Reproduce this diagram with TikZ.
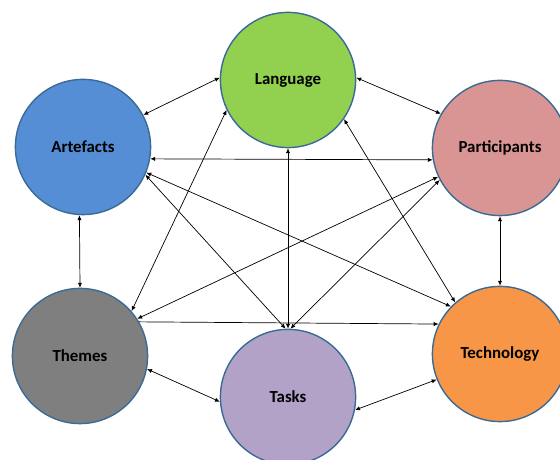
\documentclass[tikz,border=0pt]{standalone}
\usepackage[dvipsnames]{xcolor}
\usepackage{fontspec}
\setmainfont{Carlito}
\usepackage{tikz}
\usetikzlibrary{arrows.meta}

\definecolor{langgreen}{HTML}{92D050}
\definecolor{artblue}{HTML}{558ED5}
\definecolor{partpink}{HTML}{D99594}
\definecolor{themegray}{HTML}{7F7F7F}
\definecolor{tasklilac}{HTML}{B3A2C7}
\definecolor{techorange}{HTML}{F79646}
\definecolor{rimblue}{HTML}{3A6A96}

\begin{document}
\begin{tikzpicture}[
		topic/.style={circle,draw=rimblue,line width=1pt,minimum size=3.38cm,inner sep=0pt,
			font=\fontsize{12}{14}\selectfont\bfseries},
		link/.style={{Latex[length=3.5pt,width=3pt]}-{Latex[length=3.5pt,width=3pt]},line width=0.5pt},
		oneway/.style={-{Latex[length=3.5pt,width=3pt]},line width=0.5pt}]
			\useasboundingbox (0,0) rectangle (14,11.5);
			\fill[white] (0,0) rectangle (14,11.5);
			
				%Circles
				\node[topic,fill=langgreen] (lang) at (7.2,9.5) {Language};
				\node[topic,fill=artblue] (art) at (2.075,7.825) {Artefacts};
				\node[topic,fill=partpink] (part) at (12.5,7.8) {Participants};
				\node[topic,fill=themegray] (themes) at (2.0,2.6) {Themes};
				\node[topic,fill=tasklilac] (tasks) at (7.2,1.575) {Tasks};
				\node[topic,fill=techorange] (tech) at (12.5,2.65) {Technology};
		
				%Outer ring
				\draw[link] (art.28) -- (lang.178);
				\draw[link] (lang.2) -- (part.150);
				\draw[link] (art.267) -- (themes.90);
				\draw[link] (part.south) -- (tech.north);
				\draw[link] (themes.-11) -- (tasks.184);
				\draw[link] (tasks.-11) -- (tech.202);
		
				%Cross links
				\draw[link] (art.-10) -- (part.190);
				\draw[link] (lang.south) -- (tasks.north);
				\draw[link] (lang.206) -- (themes.41);
				\draw[link] (lang.-35) -- (tech.131);
				\draw[link] (art.-22) -- (tech.136);
				\draw[link] (art.-24) -- (tasks.92);
				\draw[link] (part.205) -- (themes.33);
				\draw[link] (part.208) -- (tasks.88);
				\draw[oneway] (themes.30) -- (tech.154);
	\end{tikzpicture}
\end{document}
